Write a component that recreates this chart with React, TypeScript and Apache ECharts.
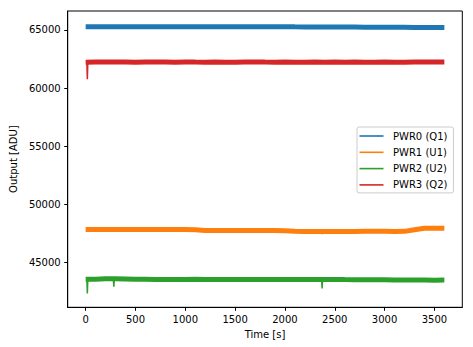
import React, { useEffect, useRef } from 'react';
import * as echarts from 'echarts';

const times = [0, 100, 200, 300, 400, 500, 600, 700, 800, 900, 1000, 1100, 1200, 1300, 1400, 1500, 1600, 1700, 1800, 1900, 2000, 2100, 2200, 2300, 2400, 2500, 2600, 2700, 2800, 2900, 3000, 3100, 3200, 3300, 3400, 3500, 3600];

const pwr0 = [65285, 65280, 65284, 65282, 65280, 65278, 65282, 65280, 65276, 65280, 65282, 65278, 65280, 65276, 65272, 65276, 65280, 65276, 65272, 65270, 65272, 65266, 65262, 65258, 65255, 65250, 65248, 65244, 65240, 65236, 65232, 65226, 65222, 65216, 65210, 65205, 65202];
const pwr1 = [47830, 47835, 47830, 47825, 47830, 47828, 47832, 47826, 47822, 47826, 47820, 47800, 47745, 47740, 47745, 47738, 47742, 47736, 47740, 47735, 47720, 47670, 47660, 47655, 47650, 47655, 47660, 47650, 47665, 47670, 47668, 47660, 47665, 47800, 47925, 47935, 47930];
const pwr2 = [43540, 43545, 43580, 43585, 43575, 43540, 43535, 43530, 43532, 43528, 43530, 43534, 43530, 43525, 43528, 43530, 43526, 43530, 43528, 43524, 43526, 43522, 43520, 43518, 43520, 43515, 43512, 43510, 43505, 43500, 43495, 43480, 43475, 43472, 43470, 43468, 43470];
const pwr3 = [62225, 62235, 62238, 62232, 62235, 62230, 62236, 62232, 62234, 62230, 62236, 62232, 62230, 62234, 62230, 62228, 62232, 62236, 62232, 62230, 62234, 62230, 62228, 62232, 62230, 62234, 62230, 62232, 62228, 62230, 62232, 62228, 62230, 62234, 62232, 62236, 62238];

const seriesNames = ['PWR0 (Q1)', 'PWR1 (U1)', 'PWR2 (U2)', 'PWR3 (Q2)'];
const seriesValues = [pwr0, pwr1, pwr2, pwr3];
const colors = ['#1f77b4', '#ff7f0e', '#2ca02c', '#d62728'];

// short downward glitches: which series, time, level around it, lowest value
const spikeOwner = [3, 2, 2, 2, 1];
const spikeTime = [17, 17, 283, 2373, 2373];
const spikeBase = [62230, 43540, 43580, 43520, 47655];
const spikeLow = [60760, 42330, 42900, 42760, 47440];

const xTicks = [0, 500, 1000, 1500, 2000, 2500, 3000, 3500];
const yTicks = [45000, 50000, 55000, 60000, 65000];

const FONT = 'DejaVu Sans';

export default function App() {
  const ref = useRef<HTMLDivElement>(null);
  useEffect(() => {
    if (!ref.current) return;
    const chart = echarts.init(ref.current, null, { renderer: 'svg' });

    const mainSeries = seriesNames.map((name, i) => ({
      name,
      type: 'line',
      data: times.map((t, k) => [t, seriesValues[i][k]]),
      showSymbol: false,
      symbol: 'none',
      lineStyle: { color: colors[i], width: 5 },
      itemStyle: { color: colors[i] },
      z: 2 + i,
    }));

    const spikeSeries = colors.map((c, i) => {
      const data: any[] = [];
      spikeOwner.forEach((o, k) => {
        if (o !== i) return;
        data.push([spikeTime[k] - 5, spikeBase[k]]);
        data.push([spikeTime[k], spikeLow[k]]);
        data.push([spikeTime[k] + 5, spikeBase[k]]);
        data.push([spikeTime[k] + 6, null]);
      });
      return {
        name: '_glitch' + i,
        type: 'line',
        data,
        showSymbol: false,
        symbol: 'none',
        connectNulls: false,
        lineStyle: { color: c, width: 1.5 },
        z: 2 + i,
      };
    });

    const plain = (v: number) => String(v);

    chart.setOption({
      animation: false,
      grid: {
        left: 65,
        right: 10.7,
        top: 11,
        bottom: 39.7,
        show: true,
        borderColor: '#000',
        borderWidth: 1,
        backgroundColor: '#fff',
      },
      legend: {
        data: seriesNames,
        orient: 'vertical',
        left: 357,
        top: 127,
        icon: 'rect',
        itemWidth: 24,
        itemHeight: 1.6,
        itemGap: 4.3,
        padding: [3, 6, 2, 2.5],
        backgroundColor: 'rgba(255,255,255,0.8)',
        borderColor: '#cccccc',
        borderWidth: 1,
        borderRadius: 2,
        textStyle: { fontFamily: FONT, fontSize: 10, color: '#000', lineHeight: 12, padding: [0, 0, 0, 4.5] },
      },
      xAxis: {
        type: 'value',
        min: -180,
        max: 3780,
        name: 'Time [s]',
        nameLocation: 'middle',
        nameGap: 20,
        nameTextStyle: { fontFamily: FONT, fontSize: 10, color: '#000' },
        axisLine: { show: true, onZero: false, lineStyle: { color: '#000', width: 1 } },
        axisTick: { show: true, length: 3.5, lineStyle: { color: '#000', width: 1 }, customValues: xTicks },
        axisLabel: { fontFamily: FONT, fontSize: 10, color: '#000', margin: 7, customValues: xTicks, formatter: plain },
        splitLine: { show: false },
      },
      yAxis: {
        type: 'value',
        min: 41130,
        max: 66630,
        name: 'Output [ADU]',
        nameLocation: 'middle',
        nameGap: 48,
        nameTextStyle: { fontFamily: FONT, fontSize: 10, color: '#000' },
        axisLine: { show: true, onZero: false, lineStyle: { color: '#000', width: 1 } },
        axisTick: { show: true, length: 3.5, lineStyle: { color: '#000', width: 1 }, customValues: yTicks },
        axisLabel: { fontFamily: FONT, fontSize: 10, color: '#000', margin: 7, customValues: yTicks, formatter: plain },
        splitLine: { show: false },
      },
      series: [...mainSeries, ...spikeSeries],
    });
    return () => chart.dispose();
  }, []);
  return <div ref={ref} style={{ position: 'absolute', left: 0, top: 0, width: 473, height: 347 }} />;
}
